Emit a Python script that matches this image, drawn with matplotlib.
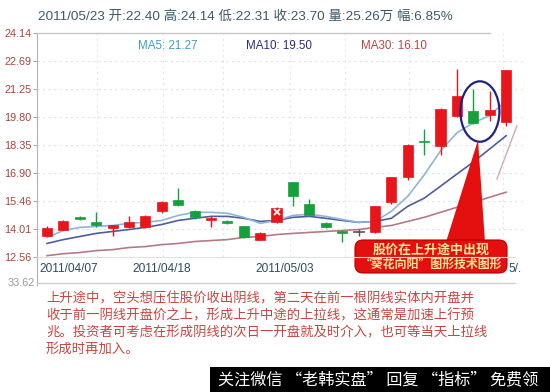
import matplotlib.pyplot as plt
import matplotlib.patches as patches
import numpy as np

# ---- data ----
opens = [13.67, 13.98, 14.61, 14.35, 14.04, 14.09, 14.09, 14.92, 15.50, 14.92,
         14.45, 14.40, 14.14, 13.46, 14.35, 16.43, 15.29, 14.30, 13.88, 13.83,
         13.83, 15.39, 16.69, 18.55, 18.31, 19.87, 20.13, 19.92, 19.56]
highs = [14.14, 14.45, 14.66, 14.87, 14.22, 14.66, 14.72, 15.45, 16.12, 14.98,
         14.66, 14.45, 14.17, 13.85, 15.15, 16.45, 15.55, 14.35, 13.93, 14.00,
         15.20, 16.72, 18.40, 19.19, 20.25, 22.27, 21.27, 21.12, 22.25]
lows = [13.62, 13.95, 14.45, 14.09, 13.62, 14.04, 14.04, 14.85, 15.18, 14.52,
        14.09, 14.25, 13.55, 13.42, 14.30, 15.18, 14.66, 14.04, 13.36, 13.62,
        13.80, 15.29, 16.53, 17.84, 17.84, 19.80, 19.45, 19.60, 19.35]
closes = [14.04, 14.40, 14.50, 14.19, 14.19, 14.35, 14.66, 15.39, 15.23, 14.61,
          14.56, 14.30, 13.57, 13.78, 15.08, 15.70, 14.71, 14.09, 13.78, 13.83,
          15.18, 16.69, 18.36, 18.49, 20.23, 20.86, 19.50, 20.18, 22.21]

ma5 = [13.57, 13.93, 14.09, 14.14, 14.19, 14.30, 14.35, 14.45, 14.71, 14.87,
       14.87, 14.82, 14.61, 14.30, 14.45, 14.71, 14.77, 14.66, 14.50, 14.35,
       14.40, 14.92, 15.70, 16.80, 18.05, 18.98, 19.50, 19.87, 20.65]
ma10 = [13.26, 13.46, 13.62, 13.78, 13.88, 13.98, 14.09, 14.24, 14.45, 14.56,
        14.66, 14.66, 14.56, 14.40, 14.45, 14.61, 14.66, 14.56, 14.45, 14.35,
        14.40, 14.56, 15.18, 15.60, 16.22, 16.85, 17.47, 18.15, 18.83]
ma30 = [12.63, 12.73, 12.79, 12.89, 12.94, 13.05, 13.10, 13.20, 13.26, 13.36,
        13.41, 13.46, 13.57, 13.62, 13.72, 13.78, 13.83, 13.88, 13.93, 13.98,
        14.09, 14.19, 14.40, 14.61, 14.87, 15.13, 15.39, 15.65, 15.91]
steep_x = [27.44, 28.66]
steep_y = [16.59, 19.35]

y_ticks = [12.56, 14.01, 15.46, 16.90, 18.35, 19.80, 21.25, 22.69, 24.14]
date_pos = [1.34, 7.0, 14.5, 28.55]
date_labels = ['2011/04/07', '2011/04/18', '2011/05/03', '5/.']
vgrid_pos = [3.05, 7.07, 10.73, 14.8, 18.2, 22.1, 27.8]

header = '2011/05/23 开:22.40 高:24.14 低:22.31 收:23.70 量:25.26万 幅:6.85%'
ma_texts = ['MA5: 21.27', 'MA10: 19.50', 'MA30: 16.10']
callout = ['股价在上升途中出现', '“葵花向阳”图形技术图形']
para = ['上升途中，空头想压住股价收出阴线，第二天在前一根阴线实体内开盘并',
        '收于前一阴线开盘价之上，形成上升中途的上拉线，这通常是加速上行预',
        '兆。投资者可考虑在形成阴线的次日一开盘就及时介入，也可等当天上拉线',
        '形成时再加入。']
footer = '关注微信 “老韩实盘” 回复 “指标” 免费领'

# ---- styling ----
W, H = 550, 392
RED = '#e8151b'
GREEN = '#14a03a'
LATIN = ['Liberation Sans', 'Noto Sans CJK SC']
CJK = ['Noto Sans CJK SC', 'DejaVu Sans']

fig = plt.figure(figsize=(W / 100, H / 100), dpi=100)
ax = fig.add_axes([37 / W, 1 - 257 / H, (525 - 37) / W, (257 - 33) / H])

n = len(closes)
x = np.arange(n)
opens_a, closes_a = np.array(opens), np.array(closes)
colors = []
for o, c in zip(opens, closes):
    if c > o:
        colors.append(RED)
    elif c < o:
        colors.append(GREEN)
    else:
        colors.append('#555555')

ax.vlines(x, lows, highs, colors=colors, linewidth=1, zorder=3)
body_h = np.maximum(np.abs(closes_a - opens_a), 0.05)
ax.bar(x, body_h, bottom=np.minimum(opens_a, closes_a), width=0.62,
       color=colors, edgecolor=colors, linewidth=0.5, zorder=4)
# the little white cross on one candle
ax.plot([14], [14.9], marker='x', color='white', markersize=5, mew=1.3, zorder=5)

ax.plot(x, ma30, color='#b57a86', linewidth=1.2, zorder=2)
ax.plot(x, ma10, color='#4f5d9c', linewidth=1.2, zorder=2)
ax.plot(x, ma5, color='#8fb5d6', linewidth=1.2, zorder=2)
ax.plot(steep_x, steep_y, color='#d6a8b0', linewidth=1.0, zorder=2)

# ellipse around the two candles
ax.add_patch(patches.Ellipse((26.4, 20.08), 2.38, 3.125, fill=False,
                             edgecolor='#1d2380', linewidth=1.6, zorder=6))

ax.set_xlim(-0.61, 29.15)
ax.set_ylim(12.56, 24.14)
for s in ax.spines.values():
    s.set_visible(False)
ax.set_yticks(y_ticks)
ax.set_yticklabels([f'{v:.2f}' for v in y_ticks], color='#a5463f',
                   fontsize=7.8, family=LATIN)
ax.tick_params(axis='y', length=3, color='#aaaaaa', pad=1)
ax.set_xticks(date_pos)
ax.set_xticklabels(date_labels, color='#2e4b5c', fontsize=8.6, family=LATIN)
ax.tick_params(axis='x', length=0, pad=4)
for v in y_ticks[1:-1]:
    ax.axhline(v, color='#e2e2e2', linewidth=0.8, linestyle=(0, (2, 3)), zorder=1)
for v in vgrid_pos:
    ax.axvline(v, color='#e6e6e6', linewidth=0.8, linestyle=(0, (2, 3)), zorder=1)

# ---- overlay in pixel coordinates ----
ov = fig.add_axes([0, 0, 1, 1], zorder=10)
ov.set_xlim(0, W)
ov.set_ylim(H, 0)
ov.axis('off')
ov.patch.set_alpha(0)

ov.plot([37, 37], [33, 285], color='#b0b0b0', linewidth=0.8)
ov.plot([37, 490], [33, 33], color='#c8c8c8', linewidth=1.0)
ov.plot([37, 515], [257, 257], color='#e0e0e0', linewidth=0.8)
ov.plot([37, 515], [283, 283], color='#d0d0d0', linewidth=1.0)
ov.text(35, 283, '33.62', ha='right', va='center', fontsize=7.8,
        color='#999999', family=LATIN)

ov.text(38, 17, header, ha='left', va='center', fontsize=9.7,
        color='#3d5a6c', family=LATIN)
ma_x = [138, 246, 361]
ma_c = ['#3a9ec8', '#2b2f7a', '#b5484a']
for t, xx, cc in zip(ma_texts, ma_x, ma_c):
    ov.text(xx, 46, t, ha='left', va='center', fontsize=8.4, color=cc,
            family=LATIN)

# pointer and callout box
ov.add_patch(patches.Polygon([(478, 140), (446, 242), (485, 242)],
                             closed=True, facecolor='#e3100f', edgecolor='none'))
ov.add_patch(patches.FancyBboxPatch((355, 240), 152, 33,
                                    boxstyle='round,pad=0,rounding_size=8',
                                    facecolor='#e3100f', edgecolor='#b00000',
                                    linewidth=0.8))
ov.text(431, 249.5, callout[0], ha='center', va='center', fontsize=9.4,
        color='#fbe79a', fontweight='bold', family=CJK)
ov.text(431, 264, callout[1], ha='center', va='center', fontsize=8.6,
        color='#fbe79a', fontweight='bold', family=CJK)

for k, line in enumerate(para):
    ov.text(46, 298 + k * 17, line, ha='left', va='center', fontsize=9.6,
            color='#c9453f', family=CJK)

ov.add_patch(patches.Rectangle((210, 367), 340, 25, facecolor='black',
                               edgecolor='none'))
ov.text(218, 379.5, footer, ha='left', va='center', fontsize=11.6,
        color='white', family=CJK)

fig.savefig('out.png', dpi=100, facecolor='white')
